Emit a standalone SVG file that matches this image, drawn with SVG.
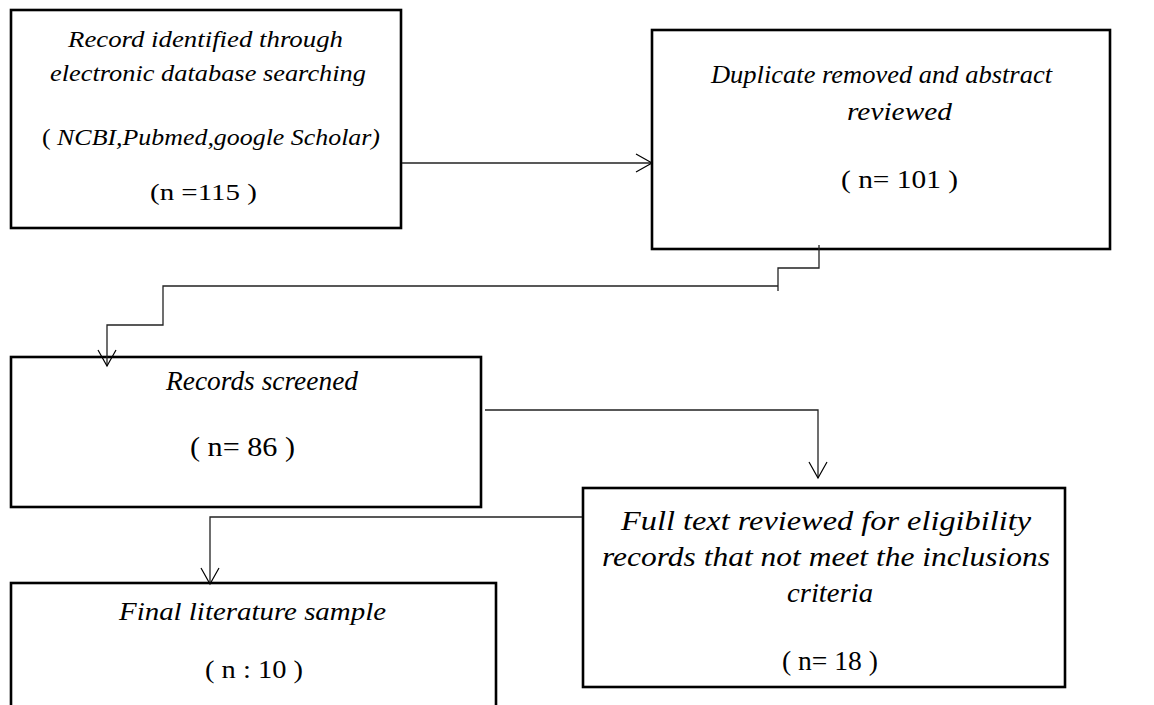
<svg xmlns="http://www.w3.org/2000/svg" width="1154" height="705" viewBox="0 0 1154 705">
<defs>
<style>
.box{fill:#fff;stroke:#000;stroke-width:2.6}
.t{font-family:"Liberation Serif","Times New Roman",serif;fill:#000;text-anchor:middle}
.i{font-style:italic}
.c{fill:none;stroke:#222;stroke-width:1.3}
</style>
<marker id="ah" viewBox="0 0 20 20" refX="18" refY="10" markerWidth="20" markerHeight="20" markerUnits="userSpaceOnUse" orient="auto">
<path d="M2,1 L18,10 L2,19" fill="none" stroke="#000" stroke-width="1.2"/>
</marker>
</defs>
<rect width="1154" height="705" fill="#fff"/>
<g id="n1">
<rect class="box" x="11" y="10" width="390" height="218"/>
<text class="t i" x="205.5" y="47" font-size="23.5" textLength="275" lengthAdjust="spacingAndGlyphs">Record identified through</text>
<text class="t i" x="208" y="81" font-size="23.5" textLength="316" lengthAdjust="spacingAndGlyphs">electronic database searching</text>
<text class="t" x="211" y="145" font-size="23.5" textLength="338" lengthAdjust="spacingAndGlyphs">( <tspan font-style="italic">NCBI,Pubmed,google Scholar)</tspan></text>
<text class="t" x="203.5" y="200" font-size="23.5" textLength="107" lengthAdjust="spacingAndGlyphs">(n =115 )</text>
</g>
<g id="n2">
<rect class="box" x="652" y="30" width="458" height="219"/>
<text class="t i" x="881.5" y="83" font-size="26" textLength="341" lengthAdjust="spacingAndGlyphs">Duplicate removed and abstract</text>
<text class="t i" x="899.5" y="120" font-size="26" textLength="105" lengthAdjust="spacingAndGlyphs">reviewed</text>
<text class="t" x="899.5" y="188" font-size="26" textLength="117" lengthAdjust="spacingAndGlyphs">( n= 101 )</text>
</g>
<g id="n3">
<rect class="box" x="11" y="357" width="470" height="150"/>
<text class="t i" x="262" y="390" font-size="27" textLength="192" lengthAdjust="spacingAndGlyphs">Records screened</text>
<text class="t" x="242.5" y="456" font-size="27" textLength="105" lengthAdjust="spacingAndGlyphs">( n= 86 )</text>
</g>
<g id="n4">
<rect class="box" x="583" y="488" width="482" height="199"/>
<text class="t i" x="826" y="530" font-size="27" textLength="410" lengthAdjust="spacingAndGlyphs">Full text reviewed for eligibility</text>
<text class="t i" x="826" y="566" font-size="27" textLength="448" lengthAdjust="spacingAndGlyphs">records that not meet the inclusions</text>
<text class="t i" x="830" y="602" font-size="27" textLength="86" lengthAdjust="spacingAndGlyphs">criteria</text>
<text class="t" x="830" y="670" font-size="27" textLength="96" lengthAdjust="spacingAndGlyphs">( n= 18 )</text>
</g>
<g id="n5">
<rect class="box" x="11" y="583" width="485" height="140"/>
<text class="t i" x="252.5" y="620" font-size="25" textLength="267" lengthAdjust="spacingAndGlyphs">Final literature sample</text>
<text class="t" x="254" y="678" font-size="25" textLength="98" lengthAdjust="spacingAndGlyphs">( n : 10 )</text>
</g>
<g id="connectors">
<path class="c" d="M402,163 H652" marker-end="url(#ah)"/>
<path class="c" d="M819,245 V268 H778 V286 M778,291 V286 H163 V325 H107 V366" marker-end="url(#ah)"/>
<path class="c" d="M485,410 H818 V478" marker-end="url(#ah)"/>
<path class="c" d="M582,517 H210 V584" marker-end="url(#ah)"/>
</g>
</svg>
